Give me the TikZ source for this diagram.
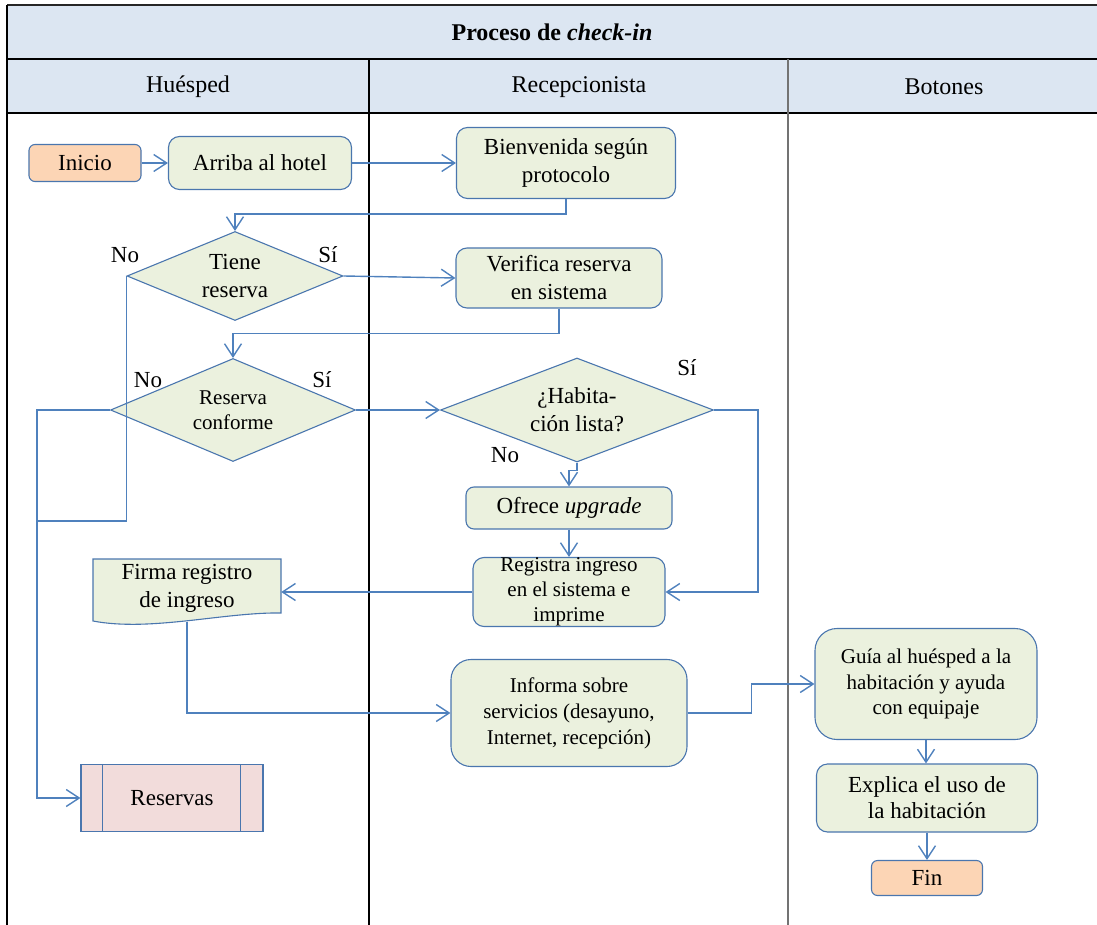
\documentclass[tikz,border=0pt]{standalone}
\usepackage{fontspec}
\setmainfont{Liberation Serif}
\usetikzlibrary{arrows.meta,shapes.geometric,calc}
\definecolor{hdr}{HTML}{DCE6F2}
\definecolor{grn}{HTML}{EBF1DE}
\definecolor{peach}{HTML}{FCD5B5}
\definecolor{pink}{HTML}{F2DCDB}
\definecolor{nodeb}{HTML}{4A76AE}
\definecolor{lnk}{HTML}{4F81BD}
\begin{document}
\begin{tikzpicture}[x=1pt,y=-1pt,
  base/.style={draw=nodeb, line width=1.1pt, align=center, inner sep=0pt,
    font=\fontsize{23}{28}\selectfont},
  proc/.style={base, fill=grn, rounded corners=11pt},
  term/.style={base, fill=peach, rounded corners=6pt},
  subp/.style={base, fill=pink},
  decis/.style={base, fill=grn, diamond, sharp corners},
  small/.style={font=\fontsize{21}{25.5}\selectfont},
  lbl/.style={font=\fontsize{23}{28}\selectfont, inner sep=0pt},
  hd/.style={font=\fontsize{24}{28}\selectfont, inner sep=0pt},
  line/.style={draw=lnk, line width=1.4pt},
  conn/.style={line, -{Straight Barb[length=13pt,width=17pt,line width=1.4pt]}}
]
\useasboundingbox (0,0) rectangle (1097,925);
% table
\fill[hdr] (7,5) rectangle (1097,113);
\draw[black!85, line width=1.2pt] (7,5) -- (1097,5);
\draw[black, line width=1.2pt] (7,59) -- (1097,59);
\draw[black, line width=1.2pt] (7,113) -- (1097,113);
\draw[black, line width=1.2pt] (7,5) -- (7,925);
\draw[black, line width=1.2pt] (369,59) -- (369,925);
\draw[black!55, line width=1.4pt] (788,59) -- (788,925);
\node[hd, font=\fontsize{24}{28}\selectfont\bfseries] (title) at (552,32) {Proceso de \textit{check-in}};
\node[hd] (h1) at (188,87) {Huésped};
\node[hd] (h2) at (579,87) {Recepcionista};
\node[hd] (h3) at (944,87) {Botones};

% nodes
\node[term, minimum width=112pt, minimum height=37pt] (inicio) at (85,163) {Inicio};
\node[proc, minimum width=183pt, minimum height=53pt] (arriba) at (260,163) {Arriba al hotel};
\node[proc, minimum width=219pt, minimum height=71pt] (bienv) at (566,163) {Bienvenida según\\protocolo};
\node[decis, aspect=2.43, minimum width=216pt, minimum height=89pt] (tiene) at (235,276) {Tiene\\reserva};
\node[proc, minimum width=206pt, minimum height=60pt] (verif) at (559,278) {Verifica reserva\\en sistema};
\node[decis, small, aspect=2.38, minimum width=245pt, minimum height=103pt] (conf) at (233,410) {Reserva\\conforme};
\node[decis, aspect=2.62, minimum width=273pt, minimum height=104pt] (hab) at (577,410) {¿Habita-\\ción lista?};
\node[proc, rounded corners=8pt, minimum width=206pt, minimum height=42pt] (ofrece) at (569,508) {Ofrece \textit{upgrade}};
\node[proc, small, font=\fontsize{21}{25}\selectfont, minimum width=192pt, minimum height=69pt] (reg) at (569,592) {Registra ingreso\\en el sistema e\\imprime};
% document shape
\path[draw=nodeb, fill=grn, line width=1.1pt] (93,559) -- (281,559) -- (281,613)
  .. controls (225,612) and (150,632) .. (93,621) -- cycle;
\node[lbl, align=center, minimum width=188pt, minimum height=58pt] (firma) at (187,588) {Firma registro\\de ingreso};
\node[proc, small, rounded corners=20pt, font=\fontsize{21}{26}\selectfont, minimum width=236pt, minimum height=107pt] (info) at (569,713) {Informa sobre\\servicios (desayuno,\\Internet, recepción)};
\node[proc, small, rounded corners=22pt, minimum width=222pt, minimum height=111pt] (guia) at (926,684) {Guía al huésped a la\\habitación y ayuda\\con equipaje};
\node[proc, font=\fontsize{23}{26}\selectfont, minimum width=221pt, minimum height=68pt] (expl) at (927,798) {Explica el uso de\\la habitación};
\node[term, minimum width=111pt, minimum height=35pt] (fin) at (927,878) {Fin};
\node[subp, minimum width=182pt, minimum height=67pt] (res) at (172,798) {Reservas};
\draw[draw=nodeb, line width=1.1pt] ($(res.north west)+(22,0)$) -- ($(res.south west)+(22,0)$);
\draw[draw=nodeb, line width=1.1pt] ($(res.north east)+(-23,0)$) -- ($(res.south east)+(-23,0)$);

% labels
\node[lbl] (no1) at (125,255) {No};
\node[lbl] (si1) at (328,255) {Sí};
\node[lbl] (no2) at (148,380) {No};
\node[lbl] (si2) at (322,380) {Sí};
\node[lbl] (si3) at (687,368) {Sí};
\node[lbl] (no3) at (505,455) {No};

% connectors
\coordinate (j1) at (38,521);
\draw[conn] (inicio) -- (arriba);
\draw[conn] (arriba) -- (bienv);
\draw[conn] (bienv.south) -- ++(0,15) -| (tiene.north);
\draw[conn] (tiene.east) -- (verif.west);
\draw[conn] (verif.south) -- ++(0,25) -| (conf.north);
\draw[conn] (conf.east) -- (hab.west);
\draw[conn] (hab.east) -- ++(44,0) |- (reg.east);
\draw[conn] (hab.south) -- ++(0,8) -| (ofrece.north);
\draw[conn] (ofrece.south) -- (reg.north);
\draw[conn] (reg.west) -- (reg.west -| firma.east);
\draw[conn] ($(firma.south)+(0,5)$) |- (info.west);
\draw[conn] (info.east) -- ++(64,0) |- (guia.west);
\draw[conn] (guia.south) -- (guia.south |- expl.north);
\draw[conn] (expl.south) -- (expl.south |- fin.north);
\draw[line] (tiene.west) |- (j1);
\draw[conn] (conf.west) -- ++(-73,0) |- (res.west);
\end{tikzpicture}
\end{document}
